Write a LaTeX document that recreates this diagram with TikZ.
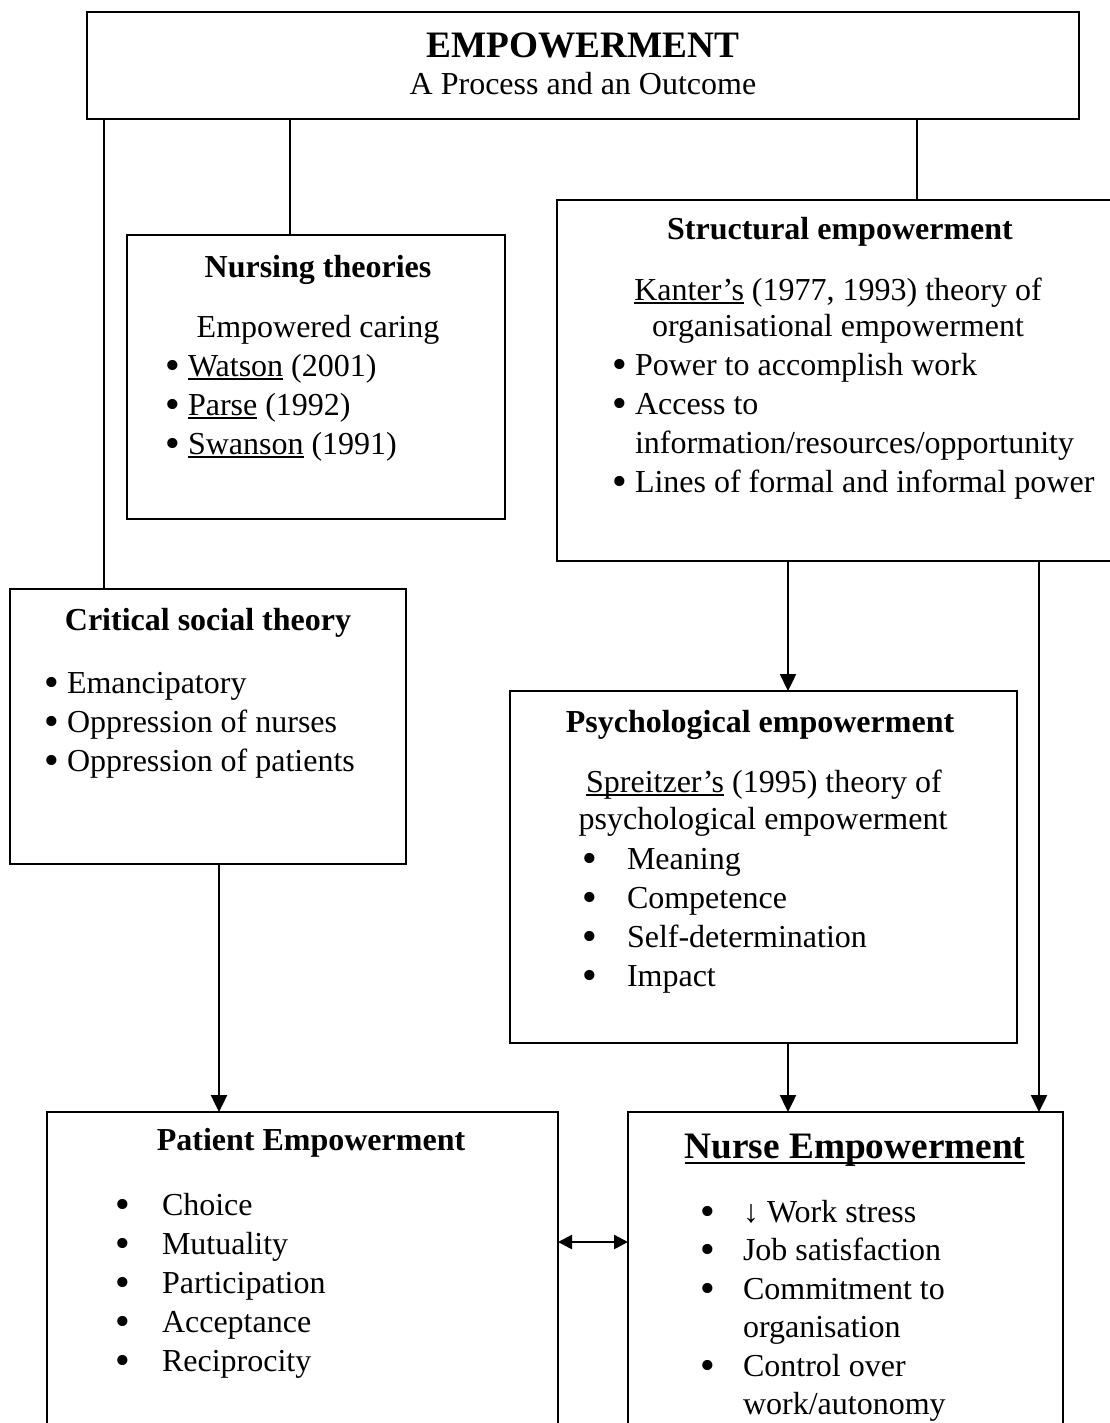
\documentclass[tikz,border=0pt]{standalone}
\usepackage{fontspec}
\setmainfont{Liberation Serif}
\newfontfamily\symfont{DejaVu Sans}
\usetikzlibrary{arrows.meta}
% bullet glyph and a bullet item with a fixed indent before the text
\newcommand\bul{\raisebox{-2.5pt}{\symfont\fontsize{35}{35}\selectfont •}}
\newcommand\itm[2]{\makebox[#1][l]{\bul}#2}
% underline set close to the baseline: depth, thickness, text
\newsavebox\ulsave
\newcommand\ulbox[3]{\sbox\ulsave{#3}\rlap{\rule[-#1]{\wd\ulsave}{#2}}\usebox\ulsave}
\begin{document}
\begin{tikzpicture}[x=1pt,y=-1pt,
  box/.style={draw, line width=1.7pt, inner sep=0pt, outer sep=0pt, anchor=north west},
  link/.style={line width=1.3pt},
  arr/.style={line width=2.4pt, -{Triangle[length=17pt,width=16pt]}},
  dbl/.style={line width=2.4pt, {Triangle[length=14pt,width=14pt]}-{Triangle[length=14pt,width=14pt]}},
  txt/.style={inner sep=0pt, outer sep=0pt, font=\fontsize{32}{39}\selectfont},
  hd/.style={txt, font=\fontsize{32}{39}\selectfont\bfseries},
  bighd/.style={txt, font=\fontsize{37.3}{45}\selectfont\bfseries},
  lft/.style={anchor=base west}, ctr/.style={anchor=base}]
\useasboundingbox (0,0) rectangle (1110,1423);
\fill[white] (0,0) rectangle (1110,1423);
\clip (0,0) rectangle (1110,1423);

% boxes
\node[box, minimum width=992pt, minimum height=107pt] (top) at (87,12) {};
\node[box, minimum width=566pt, minimum height=361pt] (struct) at (557,200) {};
\node[box, minimum width=378pt, minimum height=284pt] (nurs) at (127,235) {};
\node[box, minimum width=396pt, minimum height=275pt] (crit) at (10,589) {};
\node[box, minimum width=507pt, minimum height=352pt] (psych) at (510,691) {};
\node[box, minimum width=511pt, minimum height=340pt] (pat) at (47,1112) {};
\node[box, minimum width=435pt, minimum height=340pt] (nurse) at (628,1112) {};

% connector positions
\coordinate (xa) at (104,0);
\coordinate (xb) at (290,0);
\coordinate (xc) at (917,0);
\coordinate (xd) at (788,0);
\coordinate (xe) at (1039,0);
\coordinate (xf) at (219,0);
\coordinate (ya) at (0,1242);

\draw[link] (top.south -| xa) -- (crit.north -| xa);
\draw[link] (top.south -| xb) -- (nurs.north -| xb);
\draw[link] (top.south -| xc) -- (struct.north -| xc);
\draw[arr] (struct.south -| xd) -- (psych.north -| xd);
\draw[arr] (struct.south -| xe) -- (nurse.north -| xe);
\draw[arr] (psych.south -| xd) -- (nurse.north -| xd);
\draw[arr] (crit.south -| xf) -- (pat.north -| xf);
\draw[dbl] (pat.east |- ya) -- (nurse.west |- ya);

% top box
\node[bighd, ctr] (t1) at (583,58) {EMPOWERMENT};
\node[txt, ctr] (t2) at (583,95) {A Process and an Outcome};

% nursing theories
\node[hd, ctr] (n1) at (318,277) {Nursing theories};
\node[txt, ctr] (n2) at (318,337) {Empowered caring};
\node[txt, lft] (n3) at (162,376) {\itm{26pt}{\ulbox{3.5pt}{1.4pt}{Watson} (2001)}};
\node[txt, lft] (n4) at (162,415) {\itm{26pt}{\ulbox{3.5pt}{1.4pt}{Parse} (1992)}};
\node[txt, lft] (n5) at (162,454) {\itm{26pt}{\ulbox{3.5pt}{1.4pt}{Swanson} (1991)}};

% structural empowerment
\node[hd, ctr] (s1) at (840,240) {Structural empowerment};
\node[txt, ctr] (s2) at (838,300) {\ulbox{3.5pt}{1.4pt}{Kanter’s} (1977, 1993) theory of};
\node[txt, ctr] (s3) at (838,336) {organisational empowerment};
\node[txt, lft] (s4) at (609,375) {\itm{26pt}{Power to accomplish work}};
\node[txt, lft] (s5) at (609,414) {\itm{26pt}{Access to}};
\node[txt, lft] (s6) at (635,453) {information/resources/opportunity};
\node[txt, lft] (s7) at (609,492) {\itm{26pt}{Lines of formal and informal power}};

% critical social theory
\node[hd, ctr] (c1) at (208,630) {Critical social theory};
\node[txt, lft] (c2) at (41,693) {\itm{26pt}{Emancipatory}};
\node[txt, lft] (c3) at (41,732) {\itm{26pt}{Oppression of nurses}};
\node[txt, lft] (c4) at (41,771) {\itm{26pt}{Oppression of patients}};

% psychological empowerment
\node[hd, ctr] (p1) at (760,732) {Psychological empowerment};
\node[txt, ctr] (p2) at (764,792) {\ulbox{3.5pt}{1.4pt}{Spreitzer’s} (1995) theory of};
\node[txt, ctr] (p3) at (763,829) {psychological empowerment};
\node[txt, lft] (p4) at (579,869) {\itm{48pt}{Meaning}};
\node[txt, lft] (p5) at (579,908) {\itm{48pt}{Competence}};
\node[txt, lft] (p6) at (579,947) {\itm{48pt}{Self-determination}};
\node[txt, lft] (p7) at (579,986) {\itm{48pt}{Impact}};

% patient empowerment
\node[hd, ctr] (a1) at (311,1150) {Patient Empowerment};
\node[txt, lft] (a2) at (112,1215) {\itm{50pt}{Choice}};
\node[txt, lft] (a3) at (112,1254) {\itm{50pt}{Mutuality}};
\node[txt, lft] (a4) at (112,1293) {\itm{50pt}{Participation}};
\node[txt, lft] (a5) at (112,1332) {\itm{50pt}{Acceptance}};
\node[txt, lft] (a6) at (112,1371) {\itm{50pt}{Reciprocity}};

% nurse empowerment
\node[bighd, ctr] (e1) at (855,1158) {\ulbox{6.3pt}{2.6pt}{Nurse Empowerment}};
\node[txt, lft] (e2) at (697,1222) {\itm{46pt}{↓ Work stress}};
\node[txt, lft] (e3) at (697,1260) {\itm{46pt}{Job satisfaction}};
\node[txt, lft] (e4) at (697,1299) {\itm{46pt}{Commitment to}};
\node[txt, lft] (e5) at (743,1337) {organisation};
\node[txt, lft] (e6) at (697,1376) {\itm{46pt}{Control over}};
\node[txt, lft] (e7) at (743,1414) {work/autonomy};
\end{tikzpicture}
\end{document}
